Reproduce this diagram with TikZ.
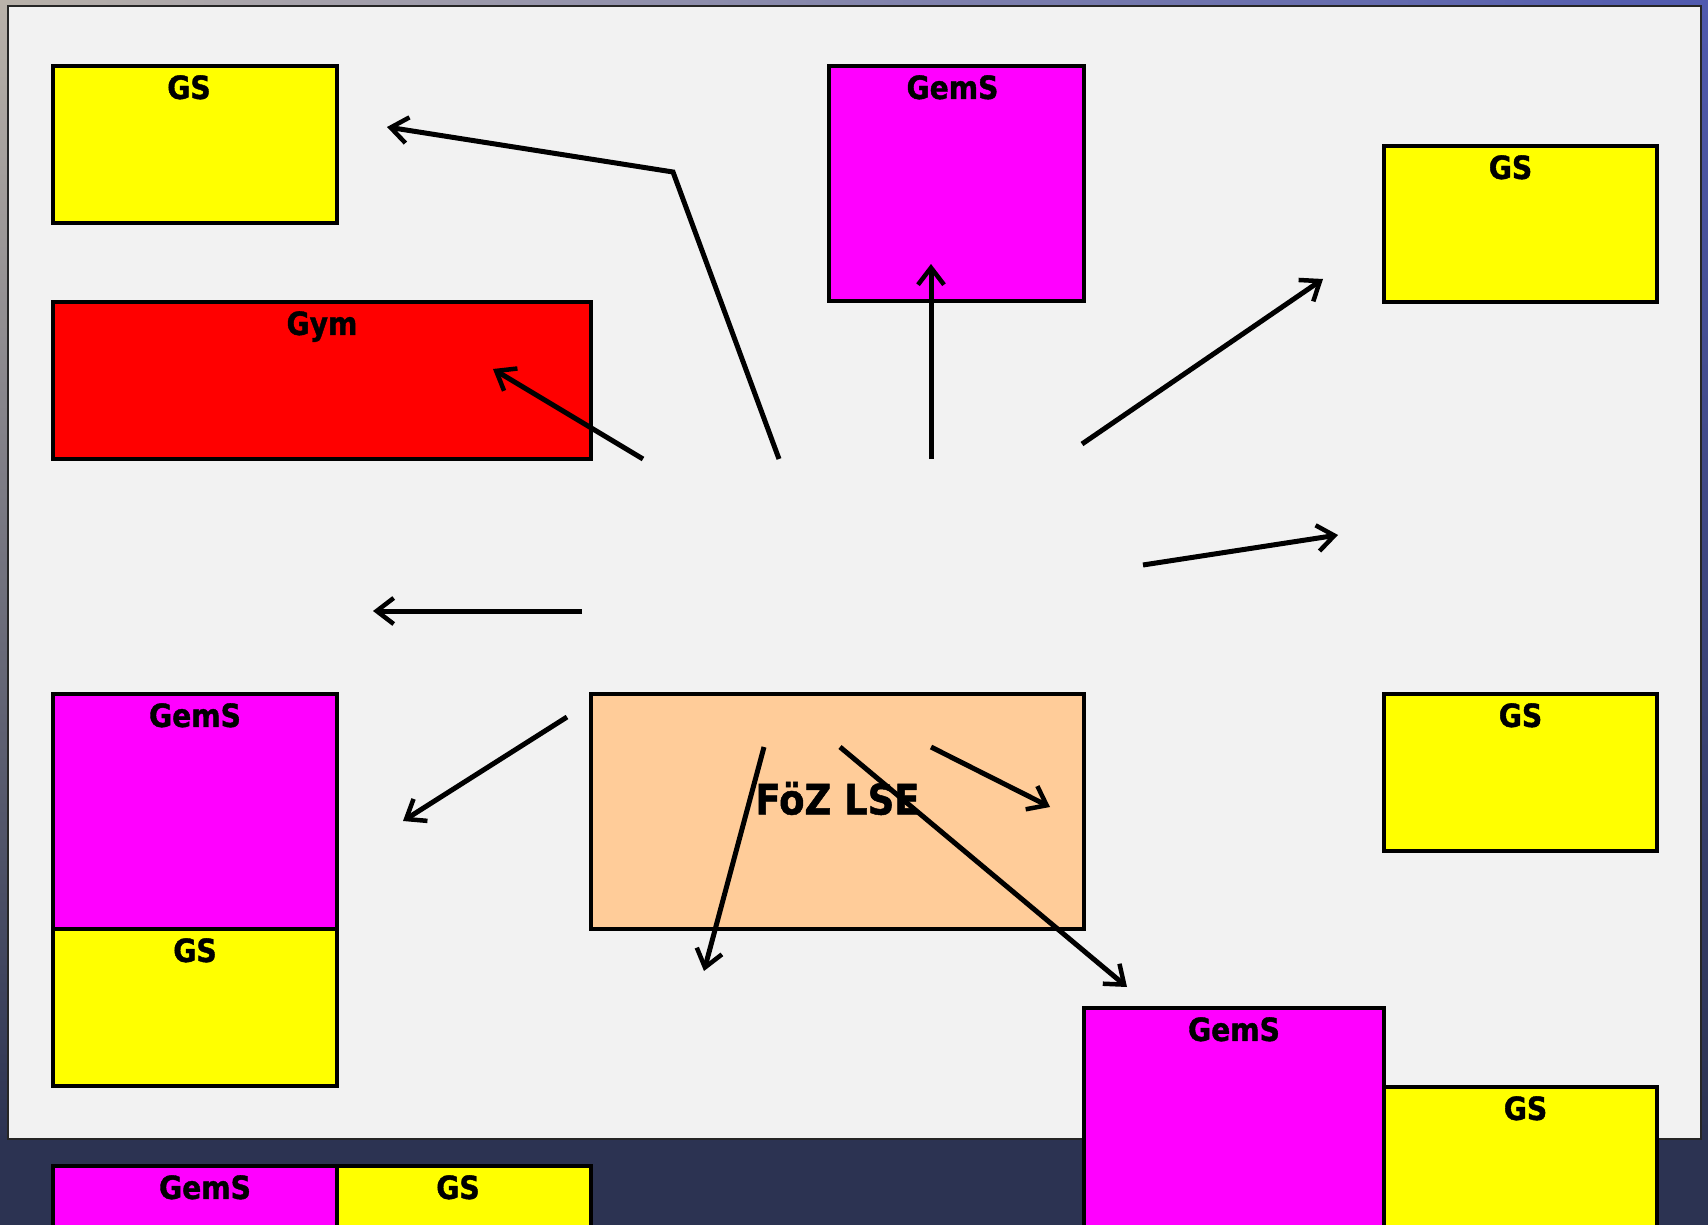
\documentclass[tikz,border=0pt]{standalone}
\usepackage{fontspec}
\setmainfont{DejaVu Sans}[FakeStretch=0.88, BoldFeatures={FakeBold=1.2}]
\usetikzlibrary{arrows.meta}
\definecolor{navy}{RGB}{44,51,82}
\definecolor{panelgrey}{RGB}{242,242,242}
\definecolor{peach}{RGB}{255,204,153}
\definecolor{pureyellow}{RGB}{255,255,0}
\definecolor{puremagenta}{RGB}{255,0,255}
\definecolor{purered}{RGB}{255,0,0}
\definecolor{topleft}{RGB}{185,178,170}
\definecolor{topright}{RGB}{80,90,175}
\tikzset{
  box/.style={draw=black, line width=3.5pt, anchor=north west, inner sep=0pt, outer sep=0pt},
  lbl/.style={anchor=north, inner sep=9pt, font=\fontsize{32}{38}\selectfont\bfseries},
  arr/.style={draw=black, line width=5pt, line cap=butt, line join=miter,
    -{Straight Barb[length=17pt, width=26pt, line width=4.5pt]}},
}
\begin{document}
\begin{tikzpicture}[x=1pt, y=-1pt]
\useasboundingbox (0,0) rectangle (1708,1225);
\clip (0,0) rectangle (1708,1225);
% background
\fill[navy] (0,0) rectangle (1708,1225);
\shade[left color=topleft, right color=topright] (0,0) rectangle (1708,8);
\shade[top color=topleft, bottom color=navy] (0,0) rectangle (8,1139);
\shade[top color=topright, bottom color=navy] (1701,0) rectangle (1708,1139);
% panel
\draw[fill=panelgrey, draw=black!85, line width=2pt] (8,6) rectangle (1701,1139);
% boxes
\node[box, fill=pureyellow, minimum width=284pt, minimum height=157pt, label={[lbl, xshift=-6pt]north:GS}] (gs1) at (53,66) {};
\node[box, fill=puremagenta, minimum width=255pt, minimum height=235pt, label={[lbl, xshift=-4pt]north:GemS}] (gems1) at (829,66) {};
\node[box, fill=pureyellow, minimum width=273pt, minimum height=156pt, label={[lbl, xshift=-10pt]north:GS}] (gs2) at (1384,146) {};
\node[box, fill=purered, minimum width=538pt, minimum height=157pt, label={[lbl]north:Gym}] (gym) at (53,302) {};
\node[box, fill=puremagenta, minimum width=284pt, minimum height=235pt, label={[lbl]north:GemS}] (gems2) at (53,694) {};
\node[box, fill=pureyellow, minimum width=284pt, minimum height=157pt, label={[lbl]north:GS}] (gs3) at (53,929) {};
\node[box, fill=peach, minimum width=493pt, minimum height=235pt,
  label={[anchor=center, yshift=13pt, font=\fontsize{42}{50}\selectfont\bfseries]center:FöZ LSE}] (foz) at (591,694) {};
\node[box, fill=pureyellow, minimum width=273pt, minimum height=157pt, label={[lbl]north:GS}] (gs4) at (1384,694) {};
\node[box, fill=puremagenta, minimum width=300pt, minimum height=235pt, label={[lbl]north:GemS}] (gems3) at (1084,1008) {};
\node[box, fill=pureyellow, minimum width=273pt, minimum height=157pt, label={[lbl, xshift=5pt]north:GS}] (gs5) at (1384,1087) {};
\node[box, fill=puremagenta, minimum width=284pt, minimum height=235pt, label={[lbl, xshift=10pt]north:GemS}] (gems4) at (53,1166) {};
\node[box, fill=pureyellow, minimum width=254pt, minimum height=157pt, label={[lbl, xshift=-6pt]north:GS}] (gs6) at (337,1166) {};
% arrow end points
\coordinate (s1) at (779,459); \coordinate (k1) at (673,172); \coordinate (t1) at (387,127);
\coordinate (s2) at (643,459); \coordinate (t2) at (493,369);
\coordinate (s3) at (931,459); \coordinate (t3) at (931,264);
\coordinate (s4) at (1082,444); \coordinate (t4) at (1323,279);
\coordinate (s5) at (1143,565); \coordinate (t5) at (1338,535);
\coordinate (s6) at (582,611); \coordinate (t6) at (373,611);
\coordinate (s7) at (567,717); \coordinate (t7) at (403,821);
\coordinate (s8) at (764,747); \coordinate (t8) at (704,971);
\coordinate (s9) at (840,747); \coordinate (t9) at (1127,987);
\coordinate (s10) at (931,747); \coordinate (t10) at (1050,807);
% arrows
\draw[arr] (s1) -- (k1) -- (t1);
\draw[arr] (s2) -- (t2);
\draw[arr] (s3) -- (t3);
\draw[arr] (s4) -- (t4);
\draw[arr] (s5) -- (t5);
\draw[arr] (s6) -- (t6);
\draw[arr] (s7) -- (t7);
\draw[arr] (s8) -- (t8);
\draw[arr] (s9) -- (t9);
\draw[arr] (s10) -- (t10);
\end{tikzpicture}
\end{document}
